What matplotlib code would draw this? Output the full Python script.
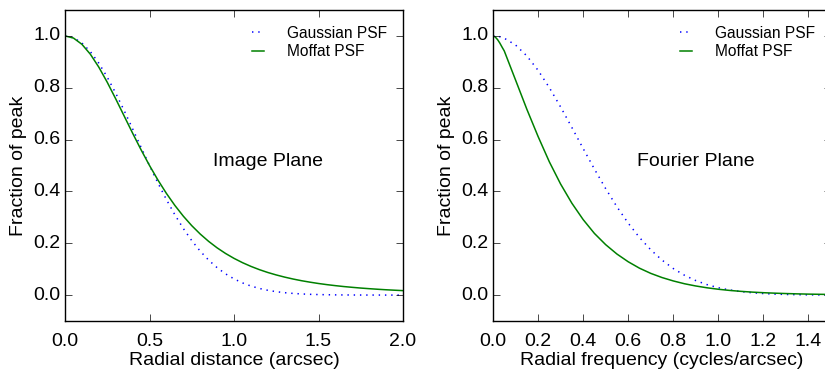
import matplotlib
matplotlib.use("Agg")
import matplotlib.pyplot as plt

plt.style.use("classic")
plt.rcParams["font.family"] = ["Liberation Sans", "DejaVu Sans"]

# Image plane profiles
r = [0.00, 0.05, 0.10, 0.15, 0.20, 0.25, 0.30, 0.35, 0.40, 0.45,
     0.50, 0.55, 0.60, 0.65, 0.70, 0.75, 0.80, 0.85, 0.90, 0.95,
     1.00, 1.05, 1.10, 1.15, 1.20, 1.25, 1.30, 1.35, 1.40, 1.45,
     1.50, 1.55, 1.60, 1.65, 1.70, 1.75, 1.80, 1.85, 1.90, 1.95, 2.00]
gauss_img = [1.0000, 0.9931, 0.9727, 0.9395, 0.8950, 0.8409, 0.7792, 0.7120, 0.6417, 0.5704,
             0.5000, 0.4323, 0.3686, 0.3099, 0.2570, 0.2102, 0.1696, 0.1349, 0.1058, 0.0819,
             0.0625, 0.0470, 0.0349, 0.0256, 0.0185, 0.0131, 0.0092, 0.0064, 0.0044, 0.0029,
             0.0020, 0.0013, 0.0008, 0.0005, 0.0003, 0.0002, 0.0001, 0.0001, 0.0000, 0.0000, 0.0000]
moffat_img = [1.0000, 0.9918, 0.9677, 0.9294, 0.8796, 0.8211, 0.7573, 0.6910, 0.6248, 0.5607,
              0.5000, 0.4438, 0.3924, 0.3460, 0.3046, 0.2679, 0.2356, 0.2072, 0.1823, 0.1606,
              0.1417, 0.1252, 0.1108, 0.0982, 0.0872, 0.0777, 0.0693, 0.0619, 0.0554, 0.0498,
              0.0447, 0.0403, 0.0364, 0.0329, 0.0299, 0.0271, 0.0247, 0.0225, 0.0205, 0.0188, 0.0172]

# Fourier plane profiles
k = [0.00, 0.01, 0.02, 0.03, 0.04, 0.05, 0.10, 0.15, 0.20, 0.25, 0.30, 0.35, 0.40, 0.45,
     0.50, 0.55, 0.60, 0.65, 0.70, 0.75, 0.80, 0.85, 0.90, 0.95,
     1.00, 1.05, 1.10, 1.15, 1.20, 1.25, 1.30, 1.35, 1.40, 1.45, 1.50]
gauss_ft = [1.0000, 0.9996, 0.9986, 0.9968, 0.9943, 0.9911, 0.9650, 0.9230, 0.8673, 0.8005,
            0.7259, 0.6466, 0.5657, 0.4864,
            0.4107, 0.3406, 0.2776, 0.2222, 0.1748, 0.1350, 0.1025, 0.0764, 0.0559, 0.0403,
            0.0284, 0.0197, 0.0135, 0.0090, 0.0059, 0.0038, 0.0024, 0.0015, 0.0009, 0.0006, 0.0003]
moffat_ft = [1.0000, 0.9957, 0.9860, 0.9728, 0.9571, 0.9420, 0.8300, 0.7175, 0.6121, 0.5142,
             0.4285, 0.3545, 0.2914, 0.2380,
             0.1946, 0.1584, 0.1286, 0.1038, 0.0838, 0.0677, 0.0546, 0.0437, 0.0351, 0.0281,
             0.0225, 0.0180, 0.0144, 0.0115, 0.0092, 0.0074, 0.0059, 0.0047, 0.0037, 0.0030, 0.0024]

fig = plt.figure(figsize=(8.25, 3.71), dpi=100, facecolor="white")
W, H = 825.0, 371.0

fs = 14
panels = [
    (65, r, gauss_img, moffat_img, (0, 2.0), [0.0, 0.5, 1.0, 1.5, 2.0],
     "Radial distance (arcsec)", "Image Plane", 1.2),
    (493, k, gauss_ft, moffat_ft, (0, 1.5), [0.0, 0.2, 0.4, 0.6, 0.8, 1.0, 1.2, 1.4],
     "Radial frequency (cycles/arcsec)", "Fourier Plane", 0.9),
]

for left, x, g, m, xlim, xticks, xlabel, label, tx in panels:
    ax = fig.add_axes([left / W, 50 / H, 338 / W, 311 / H])
    ax.plot(x, g, color="b", linestyle=(0, (1, 3.5)), lw=1.1, label="Gaussian PSF")
    ax.plot(x, m, "g-", lw=1.1, label="Moffat PSF")
    ax.set_xlim(*xlim)
    ax.set_ylim(-0.1, 1.1)
    ax.set_xticks(xticks)
    ax.set_xticklabels(["%.1f" % t for t in xticks])
    ax.set_yticks([0.0, 0.2, 0.4, 0.6, 0.8, 1.0])
    ax.tick_params(labelsize=fs, direction="in", length=5, top=True, right=True)
    ax.tick_params(axis="x", pad=8.5)
    ax.tick_params(axis="y", pad=3.5)
    ax.set_xlabel(xlabel, fontsize=fs, labelpad=1.5)
    ax.set_ylabel("Fraction of peak", fontsize=fs, labelpad=4.5)
    ax.text(tx, 0.5, label, fontsize=fs, ha="center", va="baseline")
    ax.legend(loc="upper right", frameon=False, fontsize=11.2, handlelength=1.4,
              handletextpad=1.2, labelspacing=0.25, borderaxespad=0.6)

fig.savefig("out.png", dpi=100, facecolor="white")
